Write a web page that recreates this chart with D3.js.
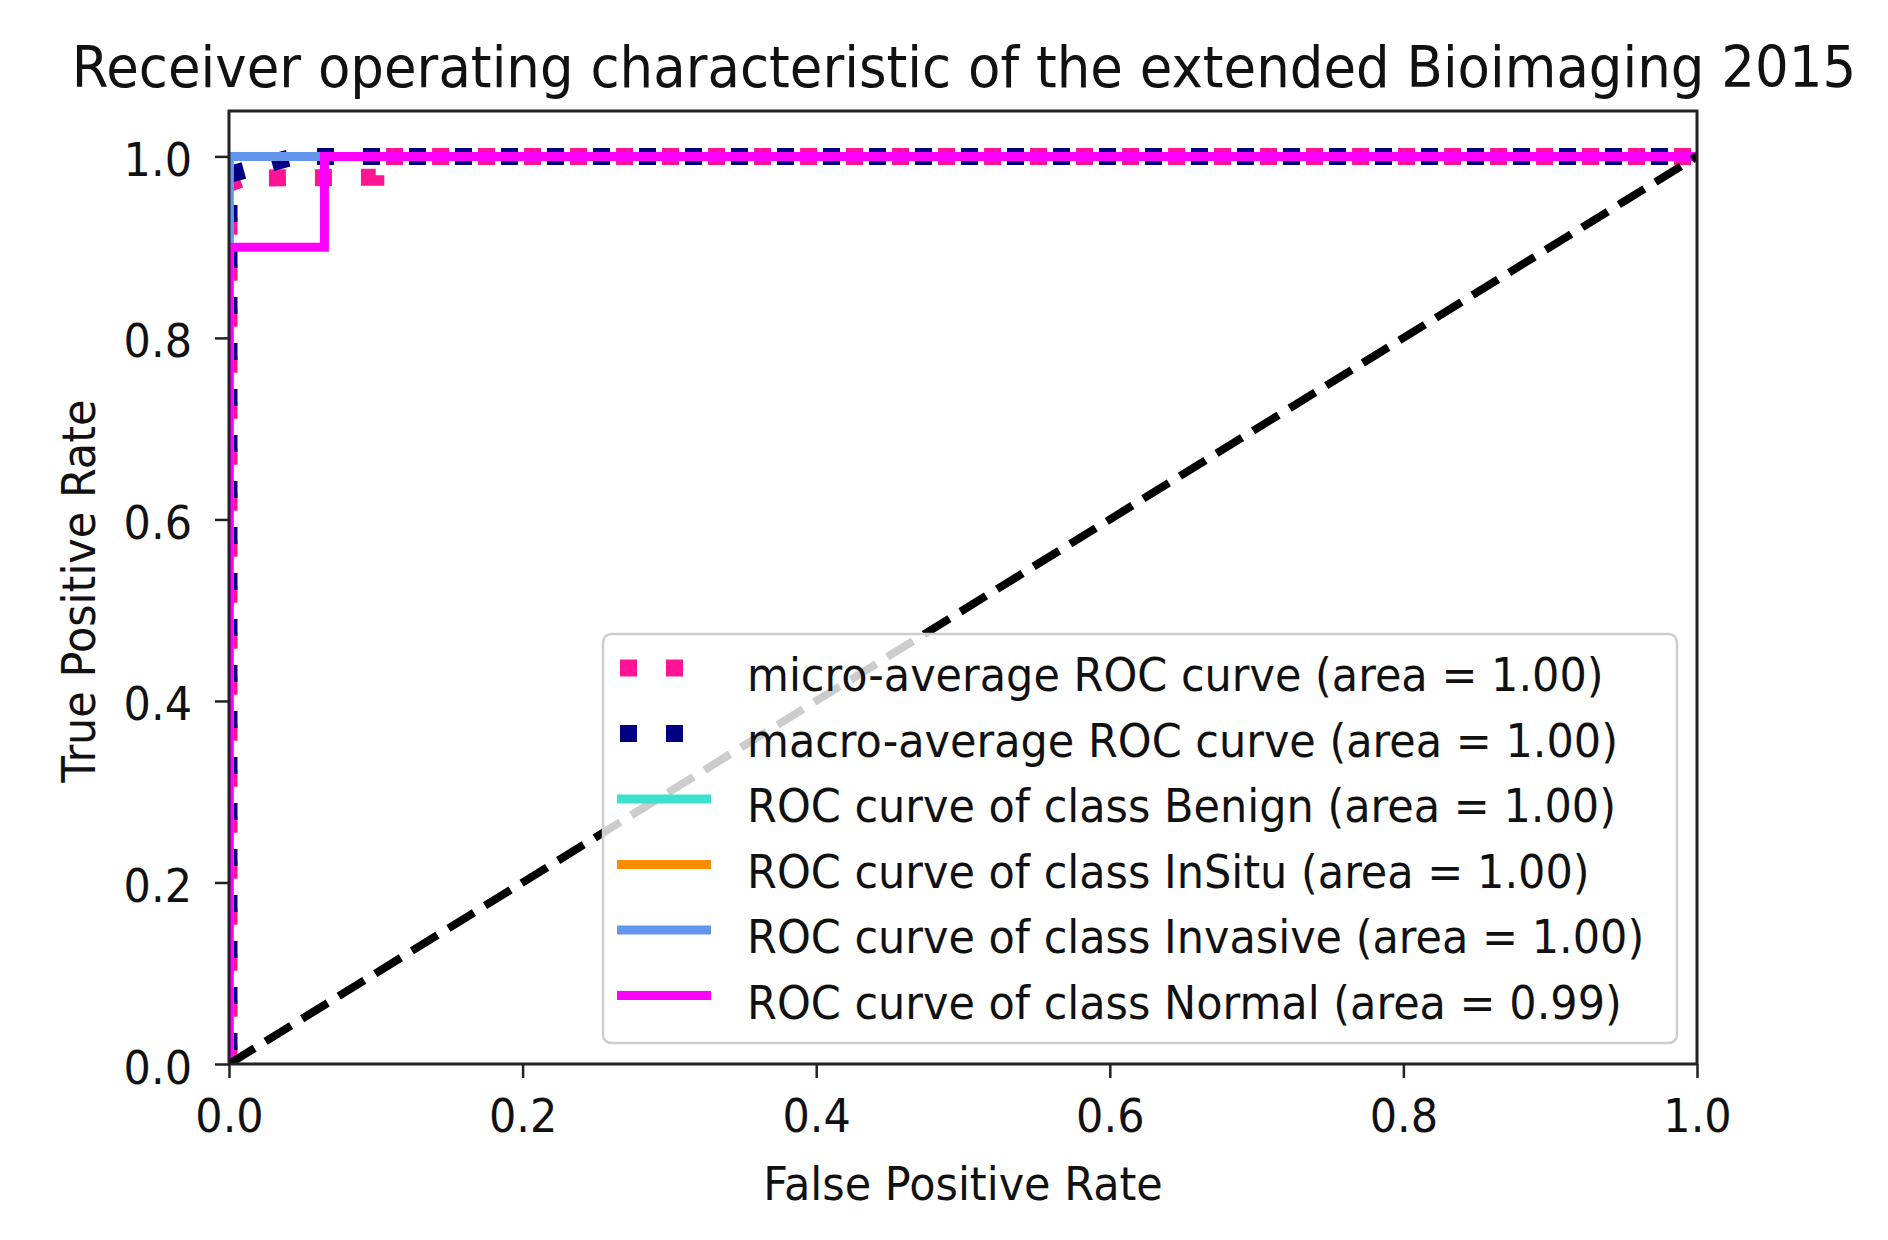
<!DOCTYPE html>
<html>
<head>
<meta charset="utf-8">
<script src="https://cdn.jsdelivr.net/npm/d3@7"></script>
<style>
  body { margin: 0; background: #fff; }
  text { font-family: "DejaVu Sans", sans-serif; fill: #111; }
</style>
</head>
<body>
<div id="chart"></div>
<script>
// ---- data ----
const titleText = "Receiver operating characteristic of the extended Bioimaging 2015";
const xTicks = [0.0, 0.2, 0.4, 0.6, 0.8, 1.0];
const yTicks = [0.0, 0.2, 0.4, 0.6, 0.8, 1.0];

const microFpr = [0, 0, 0.01, 0.1, 0.1, 1];
const microTpr = [0, 0.97, 0.976, 0.977, 1, 1];
const macroFpr = [0, 0, 0.045, 1];
const macroTpr = [0, 0.98, 1, 1];
const benignFpr = [0, 0, 1];
const benignTpr = [0, 1, 1];
const inSituFpr = [0, 0, 1];
const inSituTpr = [0, 1, 1];
const invasiveFpr = [0, 0, 1];
const invasiveTpr = [0, 1, 1];
const normalFpr = [0, 0, 0.065, 0.065, 1];
const normalTpr = [0, 0.9, 0.9, 1, 1];
const chanceFpr = [0, 1];
const chanceTpr = [0, 1];

const seriesNames = [
    "micro-average ROC curve (area = 1.00)",
    "macro-average ROC curve (area = 1.00)",
    "ROC curve of class Benign (area = 1.00)",
    "ROC curve of class InSitu (area = 1.00)",
    "ROC curve of class Invasive (area = 1.00)",
    "ROC curve of class Normal (area = 0.99)"
];
const seriesColors = ["deeppink", "navy", "#3ee0d0", "darkorange", "cornflowerblue", "magenta"];

// ---- layout ----
const W = 1888, H = 1240;
const margin = {left: 229, right: W - 1697, top: 111, bottom: H - 1064};
const width = W - margin.left - margin.right;
const height = H - margin.top - margin.bottom;
const stretch = 1.08;   // glyphs in the reference are a bit taller than wide
const dotPattern = "17 29";

const svg = d3.select("#chart").append("svg")
    .attr("width", W)
    .attr("height", H);

const g = svg.append("g")
    .attr("transform", `translate(${margin.left},${margin.top})`);

const x = d3.scaleLinear().domain([0, 1]).range([0, width]);
const y = d3.scaleLinear().domain([0, 1.05]).range([height, 0]);

function addText(parent, px, py, str, size, anchor, rot) {
    return parent.append("text")
        .attr("transform", `translate(${px},${py})` + (rot ? ` rotate(${rot})` : "") + ` scale(1,${stretch})`)
        .attr("text-anchor", anchor)
        .style("font-size", size + "px")
        .text(str);
}

// clip to the axes box like matplotlib does
g.append("clipPath").attr("id", "plot-clip")
    .append("rect")
    .attr("width", width)
    .attr("height", height);

const plot = g.append("g").attr("clip-path", "url(#plot-clip)");

const line = d3.line()
    .x(d => x(d[0]))
    .y(d => y(d[1]));

function pairs(fx, ty) { return fx.map((v, i) => [v, ty[i]]); }

// dot phase of the two dotted averages so the dots sit where they do in the reference
const curves = [
    {pts: pairs(microFpr, microTpr), dotted: true, offset: 44.7},
    {pts: pairs(macroFpr, macroTpr), dotted: true, offset: 32.1},
    {pts: pairs(benignFpr, benignTpr), dotted: false},
    {pts: pairs(inSituFpr, inSituTpr), dotted: false},
    {pts: pairs(invasiveFpr, invasiveTpr), dotted: false},
    {pts: pairs(normalFpr, normalTpr), dotted: false}
];

curves.forEach((c, i) => {
    plot.append("path")
        .attr("d", line(c.pts))
        .attr("fill", "none")
        .attr("stroke", seriesColors[i])
        .attr("stroke-width", c.dotted ? 17 : 9)
        .attr("stroke-dasharray", c.dotted ? dotPattern : null)
        .attr("stroke-dashoffset", c.dotted ? c.offset : null)
        .attr("stroke-linecap", "butt")
        .attr("stroke-linejoin", "miter");
});

// chance line
plot.append("path")
    .attr("d", line(pairs(chanceFpr, chanceTpr)))
    .attr("fill", "none")
    .attr("stroke", "#000")
    .attr("stroke-width", 8)
    .attr("stroke-dasharray", "30 13");

// axes
const xAxis = d3.axisBottom(x).tickValues(xTicks).tickSize(14).tickFormat(d3.format(".1f"));
const yAxis = d3.axisLeft(y).tickValues(yTicks).tickSize(14).tickFormat(d3.format(".1f"));

const gx = g.append("g")
    .attr("transform", `translate(0,${height})`)
    .call(xAxis);
const gy = g.append("g")
    .call(yAxis);

[gx, gy].forEach(a => {
    a.select(".domain").remove();
    a.selectAll(".tick line").attr("stroke", "#222").attr("stroke-width", 2.5);
    a.selectAll(".tick text")
        .attr("x", null).attr("y", null).attr("dy", null)
        .attr("fill", "#111")
        .style("font-size", "43px")
        .style("font-family", "DejaVu Sans");
});
gx.selectAll(".tick text").attr("transform", `translate(0,68) scale(1,${stretch})`);
gy.selectAll(".tick text").attr("transform", `translate(-37,19) scale(1,${stretch})`);

// spines
g.append("rect")
    .attr("width", width)
    .attr("height", height)
    .attr("fill", "none")
    .attr("stroke", "#222")
    .attr("stroke-width", 3);

// axis labels
addText(svg, margin.left + width / 2, 1200, "False Positive Rate", 43, "middle");
addText(svg, 95, 591, "True Positive Rate", 43, "middle", -90);

// title, sized to the reference width
const title = addText(svg, margin.left + width / 2 + 1, 87, titleText, 50, "middle");
const tw = title.node().getComputedTextLength();
title.style("font-size", (50 * 1784 / tw) + "px");

// legend
const legend = svg.append("g").attr("class", "legend");
legend.append("rect")
    .attr("x", 603).attr("y", 634)
    .attr("width", 1074).attr("height", 409)
    .attr("rx", 8)
    .attr("fill", "rgba(255,255,255,0.8)")
    .attr("stroke", "#cccccc")
    .attr("stroke-width", 2.5);

seriesNames.forEach((name, i) => {
    const cy = 668 + i * 65.5;
    const dotted = curves[i].dotted;
    legend.append("line")
        .attr("x1", dotted ? 620 : 617).attr("x2", dotted ? 700 : 711)
        .attr("y1", cy).attr("y2", cy)
        .attr("stroke", seriesColors[i])
        .attr("stroke-width", dotted ? 17 : 9)
        .attr("stroke-dasharray", dotted ? dotPattern : null);
    addText(legend, 747, cy + 23, name, 43, "start");
});
</script>
</body>
</html>
